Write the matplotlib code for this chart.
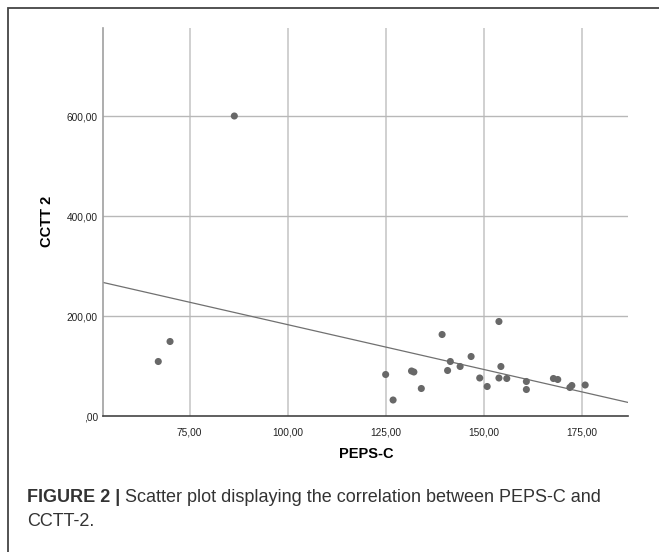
import matplotlib
matplotlib.use("Agg")
import matplotlib.pyplot as plt
import numpy as np
from matplotlib.patches import Rectangle

plt.rcParams['font.family'] = ['Liberation Sans', 'DejaVu Sans']

# PEPS-C vs CCTT 2
peps_c = [67.0, 70.0, 86.4, 125.0, 126.9, 131.6, 132.2, 134.1, 139.4, 140.8,
          141.5, 144.0, 146.8, 149.0, 150.9, 153.9, 153.9, 154.4, 155.9, 160.9,
          160.9, 167.8, 168.9, 172.0, 172.5, 175.9]
cctt_2 = [109, 149, 600, 83, 32, 90, 88, 55, 163, 91,
          109, 99, 119, 76, 59, 189, 76, 99, 75, 69,
          53, 75, 73, 57, 61, 62]

x_ticks = [75, 100, 125, 150, 175]
x_tick_labels = ["75,00", "100,00", "125,00", "150,00", "175,00"]
y_ticks = [0, 200, 400, 600]
y_tick_labels = [",00", "200,00", "400,00", "600,00"]

x_lim = (53.0, 186.9)
y_lim = (0, 776)

W, H = 659, 552
fig = plt.figure(figsize=(W / 100, H / 100), dpi=100)
ax_l, ax_r, ax_t, ax_b = 103.4, 628.3, 28, 416
ax = fig.add_axes([ax_l / W, 1 - ax_b / H, (ax_r - ax_l) / W, (ax_b - ax_t) / H])

# outer frame of the figure panel
fig.patches.append(Rectangle((7.6 / W, -0.1), 1.2, 1 - 8 / H + 0.1,
                             transform=fig.transFigure, fill=False,
                             edgecolor='#444444', linewidth=1.3))

# grid lines
for xv in x_ticks:
    ax.axvline(xv, color='#c8c8c8', linewidth=1.2, zorder=0)
for yv in y_ticks[1:]:
    ax.axhline(yv, color='#b8b8b8', linewidth=1.0, zorder=0)

ax.scatter(peps_c, cctt_2, s=26, color='#686868', edgecolors='none', zorder=3)

# linear fit
slope, intercept = np.polyfit(peps_c, cctt_2, 1)
xx = np.array(x_lim)
ax.plot(xx, intercept + slope * xx, color='#707070', linewidth=0.9, zorder=2)

ax.set_xlim(*x_lim)
ax.set_ylim(*y_lim)
ax.set_xticks(x_ticks)
ax.set_xticklabels(x_tick_labels)
ax.set_yticks(y_ticks)
ax.set_yticklabels(y_tick_labels)
ax.tick_params(length=0, labelsize=7.3, colors='#222222')
ax.tick_params(axis='x', pad=8)
ax.tick_params(axis='y', pad=4)

for s in ['top', 'right']:
    ax.spines[s].set_visible(False)
ax.spines['left'].set_color('#a0a0a0')
ax.spines['left'].set_linewidth(1.2)
ax.spines['bottom'].set_color('#444444')
ax.spines['bottom'].set_linewidth(1.2)

ax.set_xlabel('PEPS-C', fontsize=10.5, fontweight='bold', va='center')
ax.xaxis.set_label_coords(0.5, (ax_b - 454) / (ax_b - ax_t))
ax.set_ylabel('CCTT 2', fontsize=10.5, fontweight='bold', va='center')
ax.yaxis.set_label_coords((46.7 - ax_l) / (ax_r - ax_l), (ax_b - 221.7) / (ax_b - ax_t))

# caption: bold lead-in followed by regular text
cap_size = 13
cap_y1 = 1 - 498 / H
t_bold = fig.text(27.3 / W, cap_y1, 'FIGURE 2 |', fontsize=cap_size, fontweight='bold',
                  color='#333333', va='center', ha='left')
renderer = fig.canvas.get_renderer()
bb = t_bold.get_window_extent(renderer)
fig.text((bb.x1 + 4) / W, cap_y1, 'Scatter plot displaying the correlation between PEPS-C and',
         fontsize=cap_size, color='#333333', va='center', ha='left')
fig.text(27.3 / W, 1 - 521 / H, 'CCTT-2.', fontsize=cap_size, color='#333333',
         va='center', ha='left')

fig.savefig('out.png', dpi=100)
